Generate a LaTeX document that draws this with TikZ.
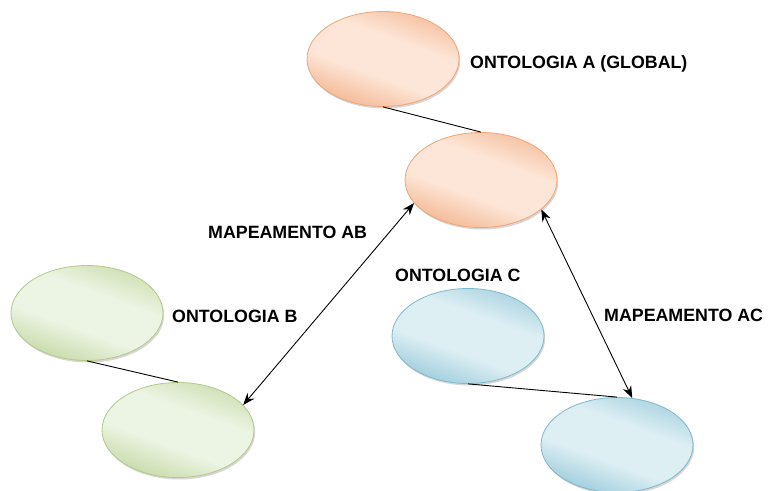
\documentclass[tikz,border=0pt]{standalone}
\usepackage{fontspec}
\setmainfont{Liberation Sans}
\usetikzlibrary{shapes.geometric,arrows.meta}

\definecolor{orEdge}{RGB}{243,182,145}
\definecolor{orMid}{RGB}{253,230,215}
\definecolor{orLine}{RGB}{238,166,120}
\definecolor{grEdge}{RGB}{198,217,166}
\definecolor{grMid}{RGB}{236,244,227}
\definecolor{grLine}{RGB}{178,202,136}
\definecolor{blEdge}{RGB}{155,203,219}
\definecolor{blMid}{RGB}{222,239,244}
\definecolor{blLine}{RGB}{126,184,204}

% soft diagonal gradient: edge colour on both sides, wide light band in the middle
\colorlet{ontoEdge}{orEdge}
\colorlet{ontoMid}{orMid}
\pgfdeclareverticalshading[ontoEdge,ontoMid]{ontoshade}{100bp}{%
  color(0bp)=(ontoEdge); color(24bp)=(ontoEdge); color(42bp)=(ontoMid);
  color(60bp)=(ontoMid); color(80bp)=(ontoEdge); color(100bp)=(ontoEdge)}

\tikzset{
  onto/.style={ellipse, minimum width=152pt, minimum height=95pt, inner sep=0pt,
    line width=0.8pt, shading=ontoshade, shading angle=-20,
    preaction={fill=black, opacity=0.16, transform canvas={xshift=1.2pt, yshift=-2pt}}},
  ontoA/.style={onto, draw=orLine,
    /utils/exec={\colorlet{ontoEdge}{orEdge}\colorlet{ontoMid}{orMid}}},
  ontoB/.style={onto, draw=grLine,
    /utils/exec={\colorlet{ontoEdge}{grEdge}\colorlet{ontoMid}{grMid}}},
  ontoC/.style={onto, draw=blLine,
    /utils/exec={\colorlet{ontoEdge}{blEdge}\colorlet{ontoMid}{blMid}}},
  lbl/.style={anchor=west, inner sep=0pt, font=\fontsize{17.8pt}{20pt}\selectfont\bfseries, text=black},
  link/.style={line width=0.9pt, black},
  mapping/.style={line width=0.9pt, black, {Stealth[length=12pt,width=9pt]}-{Stealth[length=12pt,width=9pt]}}
}

\begin{document}
\begin{tikzpicture}[x=1pt,y=1pt]
  \useasboundingbox (0,0) rectangle (768,490);

  % ontologies (upper and lower ellipse of each)
  \node[ontoA] (a1) at (383,431) {};
  \node[ontoA] (a2) at (481,310) {};
  \node[ontoB] (b1) at (87,177) {};
  \node[ontoB] (b2) at (178,60) {};
  \node[ontoC] (c1) at (468,154) {};
  \node[ontoC] (c2) at (617,45) {};

  % links inside each ontology
  \draw[link] (a1.south) -- (a2.north);
  \draw[link] (b1.south) -- (b2.north);
  \draw[link] (c1.south) -- (c2.north);

  % mappings to the global ontology
  \draw[mapping] (b2.21) -- (a2.199);
  \draw[mapping] (a2.334) -- (c2.72);

  % labels
  \node[lbl] (la) at (470,426) {ONTOLOGIA A (GLOBAL)};
  \node[lbl] (lab) at (208,258) {MAPEAMENTO AB};
  \node[lbl] (lb) at (172,174) {ONTOLOGIA B};
  \node[lbl] (lc) at (395,215) {ONTOLOGIA C};
  \node[lbl] (lac) at (604,175) {MAPEAMENTO AC};
\end{tikzpicture}
\end{document}
